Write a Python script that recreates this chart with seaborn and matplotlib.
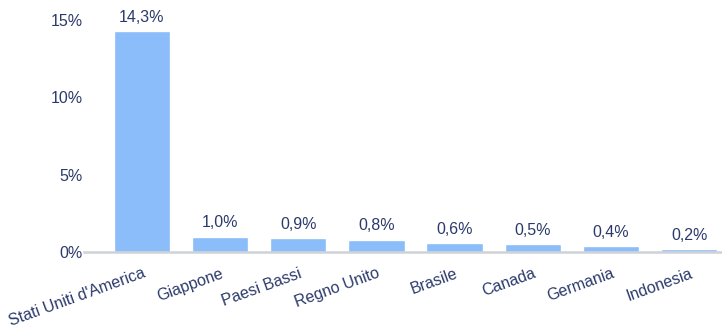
import matplotlib
matplotlib.use("Agg")
import matplotlib.pyplot as plt
import seaborn as sns
import pandas as pd

paesi = ["Stati Uniti d'America", "Giappone", "Paesi Bassi", "Regno Unito",
         "Brasile", "Canada", "Germania", "Indonesia"]
quote = [14.3, 1.0, 0.9, 0.8, 0.6, 0.5, 0.4, 0.2]
etichette = ["14,3%", "1,0%", "0,9%", "0,8%", "0,6%", "0,5%", "0,4%", "0,2%"]
yticks = [0, 5, 10, 15]
ytick_labels = ["0%", "5%", "10%", "15%"]

sns.set_theme(style="white")
plt.rcParams["font.family"] = ["Liberation Sans", "DejaVu Sans"]

text_color = "#2b3a6b"
bar_color = "#8abdfa"

df = pd.DataFrame({"paese": paesi, "quota": quote})

W, H = 722, 326
fig = plt.figure(figsize=(W / 100, H / 100), dpi=100)
left_px, right_px, top_px, bottom_px = 84, 722, 20, 252
ax = fig.add_axes([left_px / W, 1 - bottom_px / H,
                   (right_px - left_px) / W, (bottom_px - top_px) / H])

sns.barplot(data=df, x="paese", y="quota", color=bar_color, width=0.72,
            saturation=1, ax=ax)

for i, (v, lab) in enumerate(zip(quote, etichette)):
    ax.text(i, v + 0.4, lab, ha="center", va="bottom", fontsize=11.5,
            color=text_color, clip_on=False)

ax.set_xlim(-0.74, 7.42)
ax.set_ylim(0, 15)
ax.set_yticks(yticks)
ax.set_yticklabels(ytick_labels)
ax.set_xlabel("")
ax.set_ylabel("")
ax.tick_params(axis="y", length=0, pad=1, labelsize=11.5, labelcolor=text_color)
ax.tick_params(axis="x", length=0, pad=10, labelsize=11.5, labelcolor=text_color)
for lab in ax.get_xticklabels():
    lab.set_rotation(20)
    lab.set_ha("right")
    lab.set_rotation_mode("anchor")

for side in ["top", "right", "left"]:
    ax.spines[side].set_visible(False)
ax.spines["bottom"].set_color("#cfd2d6")
ax.spines["bottom"].set_linewidth(1.8)
ax.grid(False)

fig.savefig("out.png", dpi=100)
